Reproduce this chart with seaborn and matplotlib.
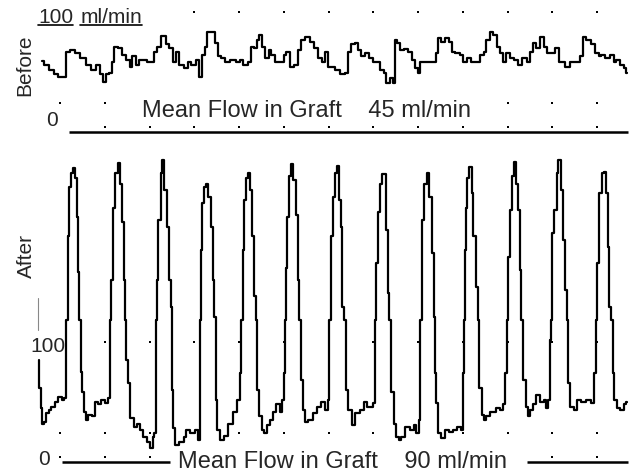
import matplotlib
matplotlib.use("Agg")
import matplotlib.pyplot as plt
import pandas as pd
import seaborn as sns

# Flow tracings: time in s (one grid division), flow in ml/min
before_t = [-0.40, -0.31, -0.20, -0.09, 0.02, 0.11, 0.16, 0.29, 0.40, 0.51, 0.63, 0.74, 0.85, 0.92, 0.98,
            1.07, 1.14, 1.18, 1.25, 1.36, 1.43, 1.52, 1.59, 1.65, 1.74, 1.81, 1.88, 1.99, 2.08, 2.12,
            2.21, 2.32, 2.41, 2.48, 2.55, 2.64, 2.70, 2.82, 2.88, 2.99, 3.08, 3.15, 3.20, 3.26, 3.33,
            3.42, 3.49, 3.55, 3.64, 3.75, 3.87, 3.98, 4.07, 4.13, 4.25, 4.29, 4.38, 4.42, 4.49, 4.54,
            4.63, 4.69, 4.76, 4.85, 4.96, 5.03, 5.09, 5.18, 5.30, 5.34, 5.43, 5.54, 5.63, 5.74, 5.81,
            5.88, 5.97, 6.01, 6.10, 6.21, 6.32, 6.41, 6.46, 6.55, 6.64, 6.70, 6.77, 6.86, 6.97, 7.04,
            7.11, 7.20, 7.26, 7.33, 7.42, 7.46, 7.51, 7.55, 7.64, 7.75, 7.82, 7.89, 7.98, 8.00, 8.09,
            8.20, 8.31, 8.38, 8.42, 8.49, 8.56, 8.65, 8.72, 8.78, 8.89, 8.98, 9.05, 9.16, 9.23, 9.34,
            9.43, 9.50, 9.56, 9.65, 9.72, 9.79, 9.88, 9.92, 10.01, 10.10, 10.21, 10.28, 10.39, 10.46,
            10.55, 10.61, 10.68, 10.77, 10.84, 10.91, 11.02, 11.11, 11.17, 11.24, 11.35, 11.46, 11.58,
            11.66, 11.73, 11.80, 11.91, 12.00, 12.07, 12.13, 12.22, 12.34, 12.40, 12.47, 12.56, 12.63,
            12.67]
before_f = [59, 56, 52, 48, 46, 46, 67, 68, 66, 62, 56, 52, 56, 48, 42, 48, 49, 58, 71, 70,
            64, 60, 54, 63, 56, 60, 60, 58, 58, 67, 71, 80, 73, 70, 58, 67, 56, 53, 58, 56,
            60, 46, 64, 71, 83, 83, 74, 63, 62, 58, 60, 58, 60, 56, 58, 71, 70, 77, 81, 71,
            62, 68, 64, 58, 58, 64, 67, 54, 56, 68, 77, 79, 75, 70, 62, 58, 67, 54, 54, 52,
            48, 49, 67, 73, 74, 68, 63, 66, 62, 58, 58, 52, 49, 41, 45, 41, 77, 74, 68, 69,
            67, 60, 53, 49, 58, 58, 58, 58, 66, 78,
            75, 78, 75, 67, 66, 64, 58, 62, 58, 58, 64, 67, 77, 83, 81, 71, 66, 58, 66, 62, 60,
            56, 62, 58, 67, 74, 70, 79, 71, 66, 66, 70, 58, 58, 54, 58, 58, 63, 79, 77, 73,
            66, 63, 64, 62, 64, 58, 60, 56, 53, 49]

after_t = [-0.47, -0.45, -0.42, -0.38, -0.34, -0.29, -0.22, -0.16, -0.07, 0.00, 0.07, 0.11,
           # beat 1
           0.16, 0.18, 0.19, 0.22, 0.27, 0.31, 0.38, 0.40, 0.42, 0.45, 0.47, 0.51, 0.56, 0.60, 0.67,
           0.74, 0.83, 0.89, 0.96, 1.05, 1.09,
           # beat 2
           1.14, 1.16, 1.21, 1.27, 1.30, 1.36, 1.41, 1.45, 1.47, 1.50, 1.54, 1.61, 1.68, 1.74, 1.83,
           1.90, 1.97, 2.06, 2.08, 2.12,
           # beat 3
           2.15, 2.17, 2.23, 2.28, 2.30, 2.37, 2.41, 2.48, 2.50, 2.51, 2.53, 2.61, 2.73, 2.79, 2.86,
           2.97, 3.06, 3.11,
           # beat 4
           3.13, 3.15, 3.20, 3.24, 3.28, 3.35, 3.40, 3.42, 3.46, 3.49, 3.53, 3.62, 3.69, 3.80, 3.91,
           4.00, 4.04,
           # beat 5
           4.07, 4.09, 4.13, 4.18, 4.20, 4.27, 4.31, 4.36, 4.40, 4.42, 4.49, 4.54, 4.58, 4.65, 4.74,
           4.80, 4.87, 4.96, 4.98, 5.01,
           # beat 6
           5.03, 5.05, 5.09, 5.14, 5.18, 5.23, 5.30, 5.32, 5.36, 5.41, 5.43, 5.50, 5.59, 5.70, 5.77,
           5.88, 5.97, 5.99, 6.01,
           # beat 7
           6.03, 6.08, 6.10, 6.17, 6.21, 6.28, 6.30, 6.32, 6.37, 6.41, 6.48, 6.55, 6.64, 6.75, 6.82,
           6.88, 6.97, 7.02, 7.04,
           # beat 8
           7.06, 7.08, 7.11, 7.17, 7.24, 7.31, 7.33, 7.37, 7.44, 7.49, 7.53, 7.60, 7.66, 7.78, 7.87,
           7.93, 8.00, 8.04,
           # beat 9
           8.07, 8.09, 8.11, 8.16, 8.22, 8.29, 8.34, 8.36, 8.38, 8.42, 8.49, 8.56, 8.65, 8.72, 8.83,
           8.92, 8.98, 9.01,
           # beat 10
           9.03, 9.05, 9.09, 9.12, 9.18, 9.23, 9.25, 9.32, 9.34, 9.39, 9.45, 9.50, 9.56, 9.68, 9.79,
           9.88, 9.92, 9.97,
           # beat 11
           10.01, 10.03, 10.08, 10.12, 10.15, 10.21, 10.26, 10.30, 10.32, 10.37, 10.44, 10.46, 10.55,
           10.61, 10.68, 10.77, 10.84, 10.88, 10.93, 10.97,
           # beat 12
           10.99, 11.02, 11.08, 11.11, 11.15, 11.22, 11.26, 11.31, 11.33, 11.37, 11.44, 11.51, 11.58,
           11.69, 11.80, 11.91, 11.96,
           # beat 13
           12.00, 12.02, 12.09, 12.14, 12.16, 12.22, 12.25, 12.29, 12.34, 12.36, 12.42, 12.47, 12.56,
           12.63, 12.67]
after_f = [85, 62, 45, 32, 33, 41, 43, 46, 50, 54, 52, 53,
           118, 162, 188, 229, 241, 245, 237, 204, 158, 118, 75, 58, 42, 35, 39,
           38, 50, 48, 52, 49, 53,
           118, 152, 212, 241, 249, 232, 200, 152, 118, 85, 66, 37, 29, 32, 27,
           21, 17, 12, 21, 24,
           118, 152, 202, 241, 252, 227, 196, 152, 129, 60, 28, 14, 17, 21, 27,
           24, 27, 18,
           118, 177, 216, 229, 232, 221, 196, 152, 121, 52, 27, 18, 22, 32, 42,
           52, 74,
           118, 177, 218, 237, 241, 227, 188, 138, 118, 60, 38, 27, 24, 31, 35,
           42, 48, 42, 52, 74,
           118, 162, 204, 238, 248, 235, 206, 152, 118, 68, 43, 33, 35, 41, 46,
           50, 43, 52, 85,
           118, 188, 221, 241, 247, 218, 196, 129, 118, 60, 43, 31, 41, 43, 50,
           46, 46, 49, 102,
           118, 166, 208, 232, 240, 193, 141, 118, 58, 32, 21, 18, 21, 29, 27,
           31, 24, 35,
           118, 171, 202, 232, 241, 221, 174, 121, 74, 49, 24, 20, 27, 25, 27,
           29, 27, 74,
           118, 177, 212, 237, 246, 224, 188, 146, 118, 62, 39, 35, 38, 42, 45,
           43, 48, 74,
           118, 171, 210, 238, 250, 232, 210, 160, 118, 68, 46, 38, 43,
           48, 56, 50, 52, 45, 52, 102,
           118, 191, 210, 241, 252, 227, 185, 143, 118, 66, 46, 43, 52,
           50, 52, 49, 74,
           118, 166, 224, 241, 242, 224, 179, 129, 118, 74, 52, 45, 43,
           48, 50]

# recorder grid dots: (flow level, first second, last second)
grid_before = [(100, 3, 12), (24, 0, 12), (4, 1, 12)]
grid_after = [(100, 1, 12), (24, 0, 12), (4, 0, 12)]

sns.set_theme(style="white")
plt.rcParams["font.family"] = ["Liberation Sans", "DejaVu Sans"]

fig = plt.figure(figsize=(6.31, 4.74), dpi=100)
ax1 = fig.add_axes([0, 334 / 474, 1, 140 / 474])
ax2 = fig.add_axes([0, 0, 1, 334 / 474])
for ax in (ax1, ax2):
    ax.set_xlim(-60 / 44.75, 571 / 44.75)
    ax.set_axis_off()
ax1.set_ylim(-8 / 1.2, 132 / 1.2)
ax2.set_ylim(-12 / 1.2, 322 / 1.2)


def draw_dots(ax, rows):
    pts = [(t, lvl) for lvl, a, b in rows for t in range(a, b + 1)]
    df = pd.DataFrame(pts, columns=["t", "flow"])
    sns.scatterplot(data=df, x="t", y="flow", ax=ax, marker="s", s=3,
                    color="black", linewidth=0, legend=False)


draw_dots(ax1, grid_before)
draw_dots(ax2, grid_after)

# recorder output is sampled, so draw the traces as steps
sns.lineplot(x=before_t, y=before_f, ax=ax1, color="black", lw=1.6,
             sort=False, estimator=None, drawstyle="steps-mid")
sns.lineplot(x=after_t, y=after_f, ax=ax2, color="black", lw=1.6,
             sort=False, estimator=None, drawstyle="steps-mid")

# zero lines
ax1.hlines(0, 0.20, 12.69, color="black", lw=1.8)
ax2.hlines(0, 0.04, 2.46, color="black", lw=1.8)
ax2.hlines(0, 10.44, 12.69, color="black", lw=1.8)
# small scale tick at the start of the lower trace
ax2.plot([-0.49, -0.49], [137, 110], color="#888888", lw=0.8)

white = dict(facecolor="white", edgecolor="none", pad=1)
fs = 15

ax1.text(-0.78, 56, "Before", rotation=90, ha="center", va="center", fontsize=fs)
ax1.text(-0.18, 10, "0", ha="center", va="center", fontsize=fs)
ax1.text(1.83, 12.5, "Mean Flow in Graft    45 ml/min", ha="left", va="baseline",
         fontsize=17, bbox=white)
u1 = ax1.text(-0.49, 91.2, "100", ha="left", va="baseline", fontsize=fs)
u2 = ax1.text(0.45, 91.2, "ml/min", ha="left", va="baseline", fontsize=fs)

ax2.text(-0.74, 172, "After", rotation=90, ha="center", va="center", fontsize=fs)
ax2.text(-0.28, 91.7, "100", ha="center", va="baseline", fontsize=fs)
ax2.text(-0.36, -2.5, "0", ha="center", va="baseline", fontsize=fs)
ax2.text(2.64, -5, "Mean Flow in Graft    90 ml/min", ha="left", va="baseline",
         fontsize=17, bbox=white)

# underline the scale label word by word
fig.canvas.draw()
renderer = fig.canvas.get_renderer()
inv = ax1.transData.inverted()
for txt in (u1, u2):
    bb = txt.get_window_extent(renderer)
    (x0, _), (x1, _) = inv.transform([[bb.x0, bb.y0], [bb.x1, bb.y1]])
    ax1.plot([x0, x1], [89.2, 89.2], color="black", lw=1.2)

fig.savefig("out.png", dpi=100)
